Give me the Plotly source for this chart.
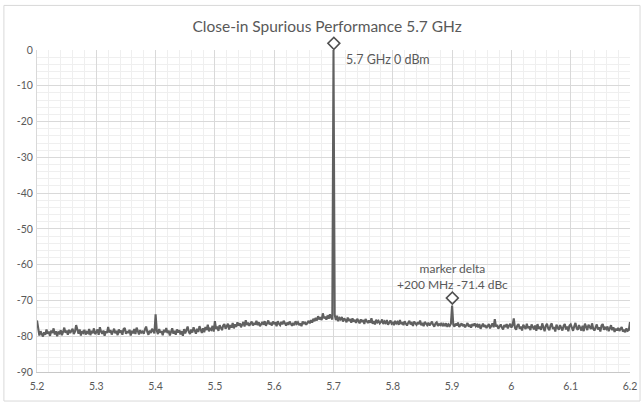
import plotly.graph_objects as go

# ---- data ----
freq_start_ghz = 5.2
freq_step_ghz = 0.002
level_dbm = [
    -75.6, -78.2, -79.8, -78.6, -79.4, -80.1, -78.9, -79.6, -78.1, -79.3,
    -78.7, -79.9, -78.4, -79.1, -77.8, -79.5, -78.6, -80.0, -78.9, -79.2,
    -78.3, -79.7, -78.8, -77.6, -79.0, -78.4, -79.6, -78.2, -79.1, -78.5,
    -77.9, -79.4, -78.7, -76.9, -78.5, -79.3, -78.1, -79.8, -78.6, -79.0,
    -78.2, -79.5, -78.8, -79.1, -78.0, -79.7, -78.5, -79.2, -77.8, -79.4,
    -78.9, -78.1, -79.6, -77.5, -78.7, -79.3, -78.4, -79.9, -78.6, -79.1,
    -77.4, -79.0, -78.3, -79.5, -78.8, -77.9, -79.2, -78.5, -79.7, -78.1,
    -79.0, -78.4, -79.6, -78.0, -77.7, -79.3, -78.6, -79.1, -78.2, -79.8,
    -78.5, -79.2, -78.0, -79.4, -77.6, -78.9, -79.5, -78.3, -79.0, -78.7,
    -79.3, -78.1, -77.3, -78.8, -79.6, -78.4, -79.1, -77.9, -78.6, -79.2,
    -73.9, -78.5, -79.4, -78.0, -79.0, -78.6, -79.7, -78.2, -78.9, -77.7,
    -79.1, -78.4, -79.8, -78.7, -77.8, -79.3, -78.5, -79.6, -78.1, -79.0,
    -78.3, -79.5, -78.6, -79.9, -78.0, -79.2, -78.4, -77.3, -78.8, -79.4,
    -78.1, -79.0, -77.5, -78.6, -79.3, -77.9, -78.8, -77.2, -78.5, -79.1,
    -77.8, -78.9, -77.4, -78.3, -76.8, -78.6, -77.9, -78.2, -77.1, -78.7,
    -75.8, -78.0, -77.3, -78.5, -76.9, -77.7, -78.3, -77.0, -76.6, -77.9,
    -77.2, -76.5, -78.1, -76.9, -77.6, -76.3, -77.8, -76.7, -77.4, -76.1,
    -77.0, -76.4, -77.5, -76.8, -76.0, -77.3, -75.5, -76.9, -76.2, -77.1,
    -76.5, -75.9, -77.0, -76.3, -76.8, -75.7, -76.9, -76.1, -77.2, -76.4,
    -76.0, -76.8, -75.8, -77.1, -76.3, -75.6, -76.7, -76.2, -77.0, -75.9,
    -76.6, -76.1, -77.2, -75.8, -76.5, -76.9, -76.0, -76.7, -75.7, -76.4,
    -77.0, -76.2, -76.8, -75.9, -76.6, -77.1, -76.3, -76.9, -75.8, -76.5,
    -76.1, -76.9, -76.4, -77.2, -75.9, -76.6, -76.0, -76.8, -76.3, -75.7,
    -76.4, -75.5, -76.2, -75.1, -75.8, -74.9, -75.6, -74.4, -75.3, -74.7,
    -75.5, -73.6, -75.0, -74.5, -75.4, -74.2, -75.1, -73.9, -74.8, -75.3,
    0.0, -74.0, -75.5, -74.3, -75.8, -74.9, -75.3, -74.6, -75.9, -75.0,
    -75.4, -76.1, -74.8, -75.7, -75.2, -76.2, -75.0, -75.9, -75.4, -76.3,
    -75.1, -75.8, -76.4, -75.3, -76.0, -75.5, -76.6, -75.2, -75.9, -76.3,
    -75.6, -76.2, -75.0, -76.5, -75.8, -76.7, -75.4, -76.1, -75.7, -76.4,
    -76.0, -75.3, -76.6, -75.9, -76.3, -75.5, -76.8, -76.0, -75.6, -76.5,
    -76.2, -76.9, -75.7, -76.4, -76.0, -76.8, -75.5, -76.6, -76.1, -76.9,
    -75.8, -76.5, -77.0, -76.2, -75.7, -76.7, -76.3, -77.1, -75.9, -76.4,
    -76.8, -76.1, -76.6, -75.6, -76.9, -76.3, -77.2, -76.0, -76.5, -76.9,
    -76.2, -77.0, -76.5, -75.9, -76.8, -77.3, -76.4, -76.1, -77.1, -76.6,
    -76.9, -76.3, -77.2, -76.6, -77.0, -76.4, -77.4, -76.7, -77.1, -76.5,
    -71.4, -76.8, -77.3, -76.5, -77.0, -76.2, -77.4, -76.8, -76.4, -77.2,
    -76.7, -77.5, -76.9, -76.3, -77.3, -76.8, -77.6, -76.6, -77.1, -76.4,
    -77.2, -76.8, -77.5, -76.6, -77.9, -77.0, -76.5, -77.4, -76.9, -77.7,
    -77.1, -76.6, -77.8, -77.0, -76.4, -77.5, -75.2, -77.3, -76.8, -77.9,
    -77.2, -76.7, -77.6, -78.1, -76.9, -77.4, -76.6, -77.8, -77.1, -76.5,
    -77.6, -76.9, -75.0, -77.7, -78.2, -77.0, -76.6, -77.9, -77.3, -78.4,
    -76.8, -77.5, -78.0, -76.5, -77.8, -77.2, -78.3, -76.7, -77.6, -78.1,
    -77.0, -78.5, -76.6, -77.9, -77.3, -78.2, -76.4, -77.7, -78.6, -77.1,
    -76.5, -77.8, -78.3, -77.0, -76.4, -78.0, -77.4, -78.7, -76.8, -77.6,
    -78.2, -76.9, -77.5, -78.4, -77.1, -76.6, -78.1, -77.3, -78.6, -77.0,
    -76.7, -77.9, -78.5, -77.2, -76.3, -77.8, -78.2, -76.9, -77.6, -78.4,
    -77.1, -78.6, -76.5, -77.7, -78.3, -76.8, -77.4, -78.0, -76.4, -77.9,
    -78.4, -77.2, -76.7, -78.1, -77.5, -78.7, -77.0, -76.6, -78.2, -77.6,
    -78.0, -77.3, -78.6, -77.8, -76.9, -78.3, -77.5, -78.8, -77.9, -78.4,
    -77.7, -78.5, -78.1, -77.4, -78.7, -78.2, -78.9, -77.8, -78.5, -78.3,
    -76.0,
]
freq_ghz = [round(freq_start_ghz + i * freq_step_ghz, 4) for i in range(len(level_dbm))]

# marker positions (carrier and spur peaks)
marker_freq_ghz = [5.7, 5.9]
marker_level_dbm = [0.0, -71.4]

x_tick_vals = [5.2, 5.3, 5.4, 5.5, 5.6, 5.7, 5.8, 5.9, 6.0, 6.1, 6.2]
x_tick_text = ["5.2", "5.3", "5.4", "5.5", "5.6", "5.7", "5.8", "5.9", "6", "6.1", "6.2"]
y_tick_vals = [0, -10, -20, -30, -40, -50, -60, -70, -80, -90]
y_tick_text = ["0", "-10", "-20", "-30", "-40", "-50", "-60", "-70", "-80", "-90"]

title_text = "Close-in Spurious Performance 5.7 GHz"
carrier_label = "5.7 GHz 0 dBm"
spur_label = "marker delta<br>+200 MHz -71.4 dBc"

# ---- figure ----
GRAY = "#595959"
FONT = "Lato, Open Sans, sans-serif"

fig = go.Figure()
fig.add_trace(go.Scatter(
    x=freq_ghz, y=level_dbm, mode="lines",
    line=dict(color="#606060", width=2.1),
    showlegend=False, hoverinfo="skip",
))

# diamond markers drawn as rotated annotation boxes, sitting just above each peak
marker_annotations = [
    dict(x=fx, y=ly, xref="x", yref="y", text=" ", showarrow=False,
         width=7, height=7, borderpad=0, borderwidth=1.6, bordercolor="#505050",
         bgcolor="white", textangle=45, yshift=7, font=dict(size=4))
    for fx, ly in zip(marker_freq_ghz, marker_level_dbm)
]

fig.update_layout(
    width=644, height=403,
    margin=dict(l=37, r=14, t=50, b=31),
    paper_bgcolor="white", plot_bgcolor="white",
    font=dict(family=FONT, color=GRAY, size=10),
    title=dict(text=title_text, x=0.508, xanchor="center", y=0.933, yanchor="middle",
               font=dict(family=FONT, size=15.5, color=GRAY)),
    xaxis=dict(
        range=[5.2, 6.2], tickvals=x_tick_vals, ticktext=x_tick_text, automargin=False,
        showgrid=True, gridcolor="#d9d9d9", gridwidth=1,
        zeroline=False, showline=True, linecolor="#c8c8c8", linewidth=1,
        ticks="", tickfont=dict(size=10.5, color=GRAY), ticklabelstandoff=4,
        minor=dict(dtick=0.02, showgrid=True, gridcolor="#efefef", gridwidth=1),
    ),
    yaxis=dict(
        range=[-90, 0], tickvals=y_tick_vals, ticktext=y_tick_text, automargin=False,
        showgrid=True, gridcolor="#d9d9d9", gridwidth=1,
        zeroline=False, showline=True, linecolor="#d9d9d9", linewidth=1,
        ticks="", tickfont=dict(size=10.5, color=GRAY), ticklabelstandoff=1,
        minor=dict(dtick=2, showgrid=True, gridcolor="#efefef", gridwidth=1),
    ),
    shapes=[dict(type="rect", xref="paper", yref="paper",
                 x0=-0.0558, x1=1.0169, y0=-0.0902, y1=1.1384,
                 line=dict(color="#d9d9d9", width=1), fillcolor="rgba(0,0,0,0)", layer="below")],
    annotations=marker_annotations + [
        dict(x=5.718, y=-2.7, xref="x", yref="y", text=carrier_label, showarrow=False,
             xanchor="left", yanchor="middle", font=dict(family=FONT, size=12.5, color=GRAY)),
        dict(x=5.9, y=-63.4, xref="x", yref="y", text=spur_label, showarrow=False,
             xanchor="center", yanchor="middle", align="center",
             font=dict(family=FONT, size=12, color=GRAY)),
    ],
)

fig.write_html("out.html", config={"displayModeBar": False},
               post_script="document.body.style.margin='0';")
